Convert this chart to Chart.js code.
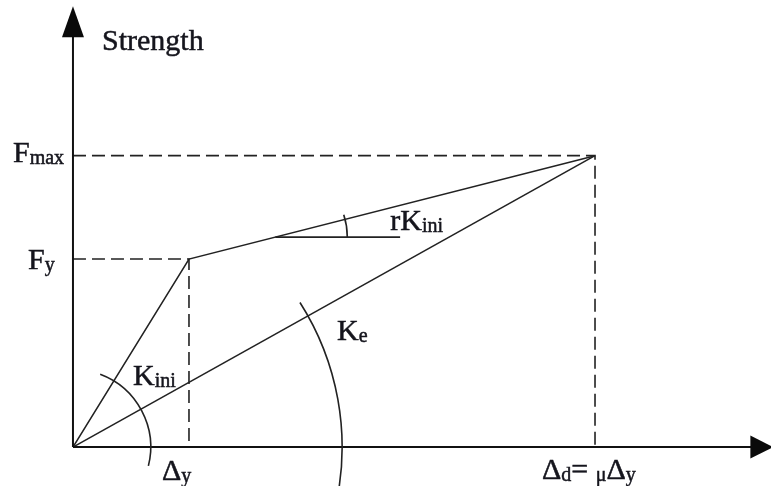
<!DOCTYPE html>
<html>
<head>
<meta charset="utf-8">
<script src="https://cdn.jsdelivr.net/npm/chart.js@4/dist/chart.umd.min.js"></script>
<style>
  html, body { margin: 0; padding: 0; background: #fff; }
  #wrap { width: 771px; height: 486px; }
</style>
</head>
<body>
<div id="wrap"><canvas id="c" width="771" height="486"></canvas></div>
<script>
// Bilinear capacity curve: origin, yield point, peak point.
const DISP = [0, 1, 4.5];        // 0, Δy, Δd = μΔy
const FORCE = [0, 1, 1.55];      // 0, Fy, Fmax
// Horizontal reference for the post-yield slope r·Kini.
const R_REF_Y = 1.117;
const R_REF_X_END = 2.82;
// Axis extents (arrow tips).
const X_AXIS_END = 6.02;
const Y_AXIS_END = 2.345;

const LINE = "#222";
const INK = "#15151d";
const SERIF = '"Liberation Serif", "Times New Roman", serif';
const MAIN_PX = 30;
const SUB_PX = 20;

// post-yield line crossing the horizontal reference
const slopeR = (FORCE[2] - FORCE[1]) / (DISP[2] - DISP[1]);
const rRefXStart = DISP[1] + (R_REF_Y - FORCE[1]) / slopeR;

const pts = (xs, ys) => xs.map((x, i) => ({ x, y: ys[i] }));

function seg(data, opts = {}) {
  return {
    data,
    showLine: true,
    borderColor: opts.color ?? LINE,
    borderWidth: opts.width ?? 1.6,
    borderDash: opts.dash ?? [],
    pointRadius: 0,
    clip: false,
    tension: 0,
  };
}

const DASH = [13, 6];

const datasets = [
  // axes
  seg([{ x: 0, y: 0 }, { x: X_AXIS_END - 0.1, y: 0 }], { color: "#111", width: 2 }),
  seg([{ x: 0, y: 0 }, { x: 0, y: Y_AXIS_END - 0.1 }], { color: "#111", width: 2 }),
  // guide lines
  seg([{ x: 0, y: FORCE[2] }, { x: DISP[2], y: FORCE[2] }, { x: DISP[2], y: 0 }], { dash: DASH }),
  seg([{ x: 0, y: FORCE[1] }, { x: DISP[1], y: FORCE[1] }, { x: DISP[1], y: 0 }], { dash: DASH }),
  // bilinear curve and secant stiffness
  seg(pts(DISP, FORCE)),
  seg([{ x: DISP[0], y: FORCE[0] }, { x: DISP[2], y: FORCE[2] }]),
  // horizontal reference for r·Kini
  seg([{ x: rRefXStart, y: R_REF_Y }, { x: R_REF_X_END, y: R_REF_Y }]),
];

// angle arcs: centre in data units, radius in x units, angles in degrees (math sense)
const ANGLE_ARCS = [
  { cx: 0, cy: 0, r: 0.67, from: 69.5, to: -14 },
  { cx: 0, cy: 0, r: 2.32, from: 32.5, to: -12 },
  { cx: rRefXStart, cy: R_REF_Y, r: 0.62, from: 18, to: 0 },
];

// labels: [text, isSubscript] runs, anchored at a data point plus a pixel offset
const LABELS = [
  { at: [0, Y_AXIS_END], dx: 29, dy: 44, runs: [["Strength", false]] },
  { at: [0, FORCE[2]], dx: -60, dy: 6, runs: [["F", false], ["max", true]] },
  { at: [0, FORCE[1]], dx: -45, dy: 10, runs: [["F", false], ["y", true]] },
  { at: [DISP[1], 0], dx: -27, dy: 33, runs: [["Δ", false], ["y", true]] },
  { at: [DISP[2], 0], dx: -53, dy: 32, runs: [["Δ", false], ["d", true], ["= ", false], ["μ", true], ["Δ", false], ["y", true]] },
  { at: [0, 0], dx: 60, dy: -62, runs: [["K", false], ["ini", true]] },
  { at: [0, 0], dx: 264, dy: -107, runs: [["K", false], ["e", true]] },
  { at: [rRefXStart, R_REF_Y], dx: 115, dy: -7, runs: [["r", false], ["K", false], ["ini", true]] },
];

const decor = {
  id: "decor",
  afterDatasetsDraw(chart) {
    const { ctx, scales: { x, y } } = chart;
    const unit = x.getPixelForValue(1) - x.getPixelForValue(0);
    ctx.save();

    // arrowheads
    ctx.fillStyle = "#0a0a0a";
    const ox = x.getPixelForValue(0);
    const oy = y.getPixelForValue(0);
    const yTip = y.getPixelForValue(Y_AXIS_END);
    ctx.beginPath();
    ctx.moveTo(ox, yTip);
    ctx.lineTo(ox - 11, yTip + 31);
    ctx.lineTo(ox + 11, yTip + 31);
    ctx.closePath();
    ctx.fill();
    const xTip = x.getPixelForValue(X_AXIS_END);
    ctx.beginPath();
    ctx.moveTo(xTip + 2, oy);
    ctx.lineTo(xTip - 21, oy - 11.5);
    ctx.lineTo(xTip - 21, oy + 11.5);
    ctx.closePath();
    ctx.fill();

    // angle arcs
    ctx.strokeStyle = LINE;
    ctx.lineWidth = 1.6;
    for (const a of ANGLE_ARCS) {
      ctx.beginPath();
      ctx.arc(x.getPixelForValue(a.cx), y.getPixelForValue(a.cy), a.r * unit,
        -a.from * Math.PI / 180, -a.to * Math.PI / 180);
      ctx.stroke();
    }

    // labels (thin stroke gives the heavier print look)
    ctx.fillStyle = INK;
    ctx.strokeStyle = INK;
    ctx.lineWidth = 0.5;
    ctx.textBaseline = "alphabetic";
    ctx.textAlign = "left";
    for (const l of LABELS) {
      let px = x.getPixelForValue(l.at[0]) + l.dx;
      const py = y.getPixelForValue(l.at[1]) + l.dy;
      for (const [t, sub] of l.runs) {
        ctx.font = `${sub ? SUB_PX : MAIN_PX}px ${SERIF}`;
        ctx.fillText(t, px, py + (sub ? 2 : 0));
        ctx.strokeText(t, px, py + (sub ? 2 : 0));
        px += ctx.measureText(t).width;
      }
    }
    ctx.restore();
  },
};

new Chart(document.getElementById("c"), {
  type: "scatter",
  data: { datasets },
  options: {
    responsive: false,
    animation: false,
    layout: { padding: 0 },
    scales: {
      x: { type: "linear", display: false, min: -0.629, max: 6.017 },
      y: { type: "linear", display: false, min: -0.207, max: 2.378 },
    },
    plugins: { legend: { display: false }, tooltip: { enabled: false } },
  },
  plugins: [decor],
});
</script>
</body>
</html>
